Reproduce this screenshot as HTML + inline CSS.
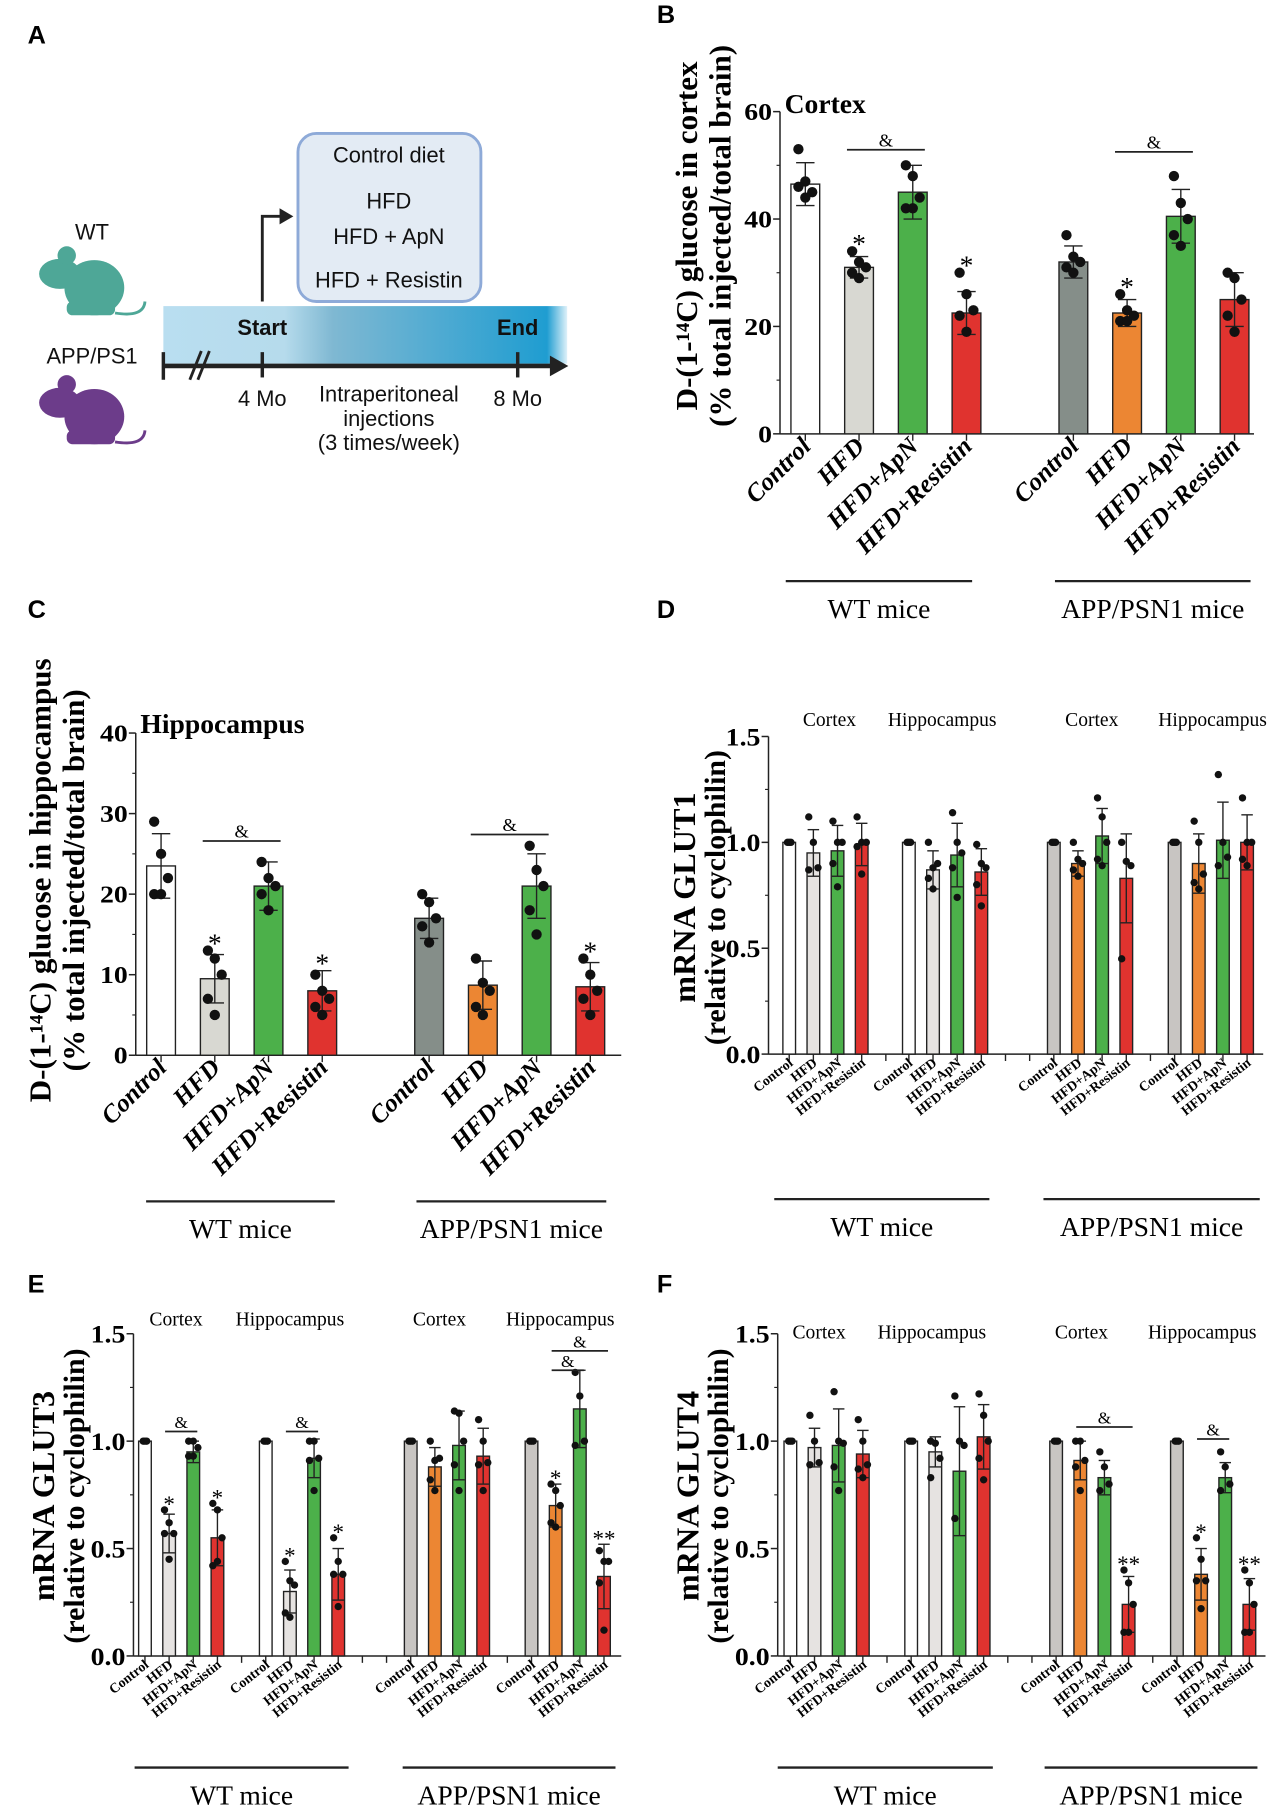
<!DOCTYPE html>
<html><head><meta charset="utf-8">
<style>
html,body{margin:0;padding:0;background:#fff;}
svg{display:block;}
text{font-family:"Liberation Serif",serif;}
.sans{font-family:"Liberation Sans",sans-serif;}
</style></head>
<body>
<svg id="fig" width="1277" height="1809" viewBox="0 0 1110 1572" preserveAspectRatio="none" xmlns="http://www.w3.org/2000/svg">
<defs>
<linearGradient id="band" x1="0" x2="1" y1="0" y2="0">
<stop offset="0" stop-color="#b9def0"/><stop offset="0.3" stop-color="#b6dbec"/><stop offset="0.42" stop-color="#7fb8d2"/><stop offset="0.95" stop-color="#1f9dd1"/><stop offset="1" stop-color="#dff1f9"/>
</linearGradient>
</defs>
<!-- Panel A -->
<g>
<text class="sans" x="24" y="38" font-size="22" font-weight="bold">A</text>
<rect x="259" y="116" width="159" height="146" rx="16" fill="#e3ebf4" stroke="#8eaad8" stroke-width="2.5"/>
<g class="sans" font-size="19" text-anchor="middle" fill="#111">
<text x="338" y="141" class="sans">Control diet</text>
<text x="338" y="181" class="sans">HFD</text>
<text x="338" y="212" class="sans">HFD + ApN</text>
<text x="338" y="250" class="sans">HFD + Resistin</text>
</g>
<rect x="142" y="266" width="351" height="50" fill="url(#band)"/>
<line x1="141" y1="318" x2="480" y2="318" stroke="#222" stroke-width="4"/>
<polygon points="478,309 494,318 478,327" fill="#222"/>
<line x1="142" y1="306" x2="142" y2="330" stroke="#222" stroke-width="3"/>
<line x1="165" y1="330" x2="175" y2="305" stroke="#222" stroke-width="2.5"/>
<line x1="172" y1="330" x2="182" y2="305" stroke="#222" stroke-width="2.5"/>
<line x1="228" y1="306" x2="228" y2="328" stroke="#222" stroke-width="3"/>
<line x1="450" y1="306" x2="450" y2="328" stroke="#222" stroke-width="3"/>
<polyline points="228,262 228,188 245,188" fill="none" stroke="#222" stroke-width="2.5"/>
<polygon points="243,181 255,188 243,195" fill="#222"/>
<g class="sans" font-size="19" text-anchor="middle" fill="#111">
<text x="228" y="291" class="sans" font-weight="bold">Start</text>
<text x="450" y="291" class="sans" font-weight="bold">End</text>
<text x="228" y="353" class="sans">4 Mo</text>
<text x="450" y="353" class="sans">8 Mo</text>
<text x="338" y="349" class="sans">Intraperitoneal</text>
<text x="338" y="370" class="sans">injections</text>
<text x="338" y="391" class="sans">(3 times/week)</text>
<text x="80" y="208" class="sans">WT</text>
<text x="80" y="316" class="sans">APP/PS1</text>
</g>
<g fill="#4ea797">
<ellipse cx="82" cy="250" rx="26" ry="24"/><ellipse cx="52" cy="238" rx="18" ry="13"/><circle cx="58" cy="222" r="8"/>
<rect x="58" y="262" width="42" height="12" rx="5"/>
<path d="M100,272 Q125,276 126,262" fill="none" stroke="#4ea797" stroke-width="2.5"/>
</g>
<g fill="#6c3c8a">
<ellipse cx="82" cy="362" rx="26" ry="24"/><ellipse cx="52" cy="350" rx="18" ry="13"/><circle cx="58" cy="334" r="8"/>
<rect x="58" y="374" width="42" height="12" rx="5"/>
<path d="M100,384 Q125,388 126,374" fill="none" stroke="#6c3c8a" stroke-width="2.5"/>
</g>
</g>
<g class="sans" font-size="22" font-weight="bold">
<text class="sans" x="571" y="20">B</text>
<text class="sans" x="24" y="537">C</text>
<text class="sans" x="571" y="537">D</text>
<text class="sans" x="24" y="1123">E</text>
<text class="sans" x="571" y="1123">F</text>
</g>
<g id="charts"></g>
</svg>
<script>
// ---------- Panel B data ----------
const bMeans = [46.5, 31, 45, 22.5, 32, 22.5, 40.5, 25];
const bErrs = [4, 2, 5, 4, 3, 2.5, 5, 5];
const bDots = [[53,47,45,46,44],[34,32,31,30,29],[50,48,44,42,42],[30,26,23,22,19],[37,33,32,31,30],[26,23,22,21,21],[48,43,40,37,35],[30,29,25,22,19]];
const bTicks = [0, 20, 40, 60];
const bStars = ['', '*', '', '*', '', '*', '', ''];
// ---------- Panel C data ----------
const cMeans = [23.5, 9.5, 21, 8, 17, 8.7, 21, 8.5];
const cErrs = [4, 3, 3, 2.5, 2.5, 3, 4, 3];
const cDots = [[29,25,22,20,20],[13,12,10,7,5],[24,22,21,20,18],[10,8,7,6,5],[20,19,17,16,14],[12,9,8,6,5],[26,23,21,18,15],[12,10,8,7,5]];
const cTicks = [0, 10, 20, 30, 40];
const cStars = ['', '*', '', '*', '', '', '', '*'];
// ---------- Panel D data (GLUT1) ----------
const dMeans = [1,.95,.96,.99, 1,.87,.94,.86, 1,.9,1.03,.83, 1,.9,1.01,1.0];
const dErrs = [0,.11,.12,.1, 0,.09,.15,.11, 0,.06,.13,.21, 0,.14,.18,.13];
const dDots = [[1,1,1],[1.12,1,.88,.87],[1.1,1,1,.9,.79],[1.12,1,1,.98,.85],[1,1,1],[1,.88,.9,.83,.78],[1.14,1,.95,.88,.74],[.99,.9,.88,.8,.7],[1,1,1],[1,.92,.9,.87,.84],[1.21,1.12,1,.92,.89],[1,.91,.89,.45],[1,1,1],[1.1,1,.85,.81,.78],[1.32,1,.93,.89],[1.21,1,1,.92,.89]];
const dStars = ['','','','','','','','','','','','','','','',''];
// ---------- Panel E data (GLUT3) ----------
const eMeans = [1,.57,.95,.55, 1,.3,.92,.38, 1,.88,.98,.93, 1,.7,1.15,.37];
const eErrs = [0,.09,.05,.13, 0,.1,.09,.12, 0,.09,.16,.13, 0,.1,.18,.15];
const eDots = [[1,1,1],[.68,.62,.57,.57,.45],[1,1,.97,.93,.93],[.71,.68,.55,.42,.44],[1,1,1],[.44,.35,.33,.2,.18],[1,1,.92,.91,.77],[.55,.44,.38,.38,.23],[1,1,1],[1,.91,.92,.82,.77],[1.14,1.13,1,.89,.77],[1.1,1,.9,.89,.77],[1,1,1],[.8,.77,.7,.62,.6],[1.32,1.21,1,.98],[.49,.44,.44,.34,.12]];
const eStars = ['','*','','*','','*','','*','','','','','','*','','**'];
// ---------- Panel F data (GLUT4) ----------
const fMeans = [1,.97,.98,.94, 1,.95,.86,1.02, 1,.91,.83,.24, 1,.38,.83,.24];
const fErrs = [0,.09,.17,.11, 0,.07,.3,.15, 0,.09,.08,.13, 0,.12,.07,.12];
const fDots = [[1,1,1],[1.12,1,.9,.89],[1.23,1,.99,.88,.77],[1.1,1,.89,.87,.83],[1,1,1],[1,.99,.92,.83],[1.21,1,.98,.64],[1.22,1.12,1,.92,.82],[1,1,1],[1,1,.91,.88,.77],[.95,.88,.8,.77],[.4,.34,.24,.11,.11],[1,1,1],[.55,.45,.35,.35,.22],[.95,.88,.8,.77],[.4,.34,.24,.11,.11]];
const fStars = ['','','','','','','','','','','','**','','*','','**'];
const mTicks = [0, 0.5, 1.0, 1.5];
const mTickLabels = ['0.0', '0.5', '1.0', '1.5'];
const barLabels = ['Control', 'HFD', 'HFD+ApN', 'HFD+Resistin'];

const NS = 'http://www.w3.org/2000/svg';
const root = document.getElementById('charts');
function mk(tag, attrs, parent, txt) {
  const e = document.createElementNS(NS, tag);
  for (const k in attrs) e.setAttribute(k, attrs[k]);
  if (txt !== undefined) e.textContent = txt;
  (parent || root).appendChild(e);
  return e;
}

function chart(o) {
  const g = mk('g', {});
  
  
  const ys = v => o.y0 - (v - o.ymin) / (o.ymax - o.ymin) * (o.y0 - o.ytop);
  const n = o.means.length;
  const xs = i => o.x0 + (i % 4) * o.step + o.offs[Math.floor(i / 4)];
  const ya = mk('line', {x1: o.ax, y1: o.ytop, x2: o.ax, y2: o.y0, stroke: '#222', 'stroke-width': 1.3}, g);
  
  
  const xa = mk('line', {x1: o.ax, y1: o.y0, x2: o.xend, y2: o.y0, stroke: '#222', 'stroke-width': 1.3}, g);
  
  
  o.ticks.forEach((t, k) => {
    mk('line', {x1: o.ax - 6, y1: ys(t), x2: o.ax, y2: ys(t), stroke: '#222', 'stroke-width': 1.3}, g);
    const tl = mk('text', {x: 0, y: 0, transform: `translate(${o.ax - 7},${ys(t) + o.tickFs * 0.35}) scale(${o.tickSx},1)`, 'text-anchor': 'end', 'font-size': o.tickFs, 'font-weight': 'bold'}, g, o.tickLabels ? o.tickLabels[k] : t);
    
    
    if (k < o.ticks.length - 1) {
      const mid = (t + o.ticks[k + 1]) / 2;
      mk('line', {x1: o.ax - 3, y1: ys(mid), x2: o.ax, y2: ys(mid), stroke: '#222', 'stroke-width': 1}, g);
    }
  });
  (o.sepTicks || []).forEach(sx => mk('line', {x1: sx, y1: o.y0, x2: sx, y2: o.y0 + 6, stroke: '#222', 'stroke-width': 1.2}, g));
  for (let i = 0; i < n; i++) {
    const x = xs(i), grp = Math.floor(i / 4), c = o.colors[grp < o.wtGroups ? 0 : 1][i % 4];
    const r = mk('rect', {x: x - o.bw / 2, y: ys(o.means[i]), width: o.bw, height: o.y0 - ys(o.means[i]), fill: c, stroke: '#222', 'stroke-width': 1.2}, g);
    
    
    mk('line', {x1: x, y1: o.y0, x2: x, y2: o.y0 + 6, stroke: '#222', 'stroke-width': 1.2}, g);
    if (o.errs[i] > 0) {
      const hi = ys(o.means[i] + o.errs[i]), lo = ys(o.means[i] - o.errs[i]);
      mk('line', {x1: x, y1: hi, x2: x, y2: lo, stroke: '#222', 'stroke-width': 1.2}, g);
      mk('line', {x1: x - o.cap, y1: hi, x2: x + o.cap, y2: hi, stroke: '#222', 'stroke-width': 1.2}, g);
      mk('line', {x1: x - o.cap, y1: lo, x2: x + o.cap, y2: lo, stroke: '#222', 'stroke-width': 1.2}, g);
    }
    const ds = o.dots[i];
    const same = ds.every(v => v === ds[0]);
    ds.forEach((v, j) => {
      const off = same ? (j - 1) * 1.5 : (j % 3 - 1) * o.jit;
      const d = mk('circle', {cx: x + off, cy: ys(v), r: o.dr, fill: '#111'}, g);
      
      
    });
    if (o.stars[i]) {
      const top = Math.max(o.means[i] + o.errs[i], Math.max.apply(null, ds));
      const s = mk('text', {x: x, y: ys(top) - o.dr + o.starFs * 0.25, 'text-anchor': 'middle', 'font-size': o.starFs}, g, o.stars[i]);
      
      
    }
    const lb = mk('text', {transform: `translate(${x + o.lblDx},${o.y0 + o.lblDy}) rotate(${o.rot})`, 'text-anchor': 'end', 'font-size': o.lblFs, 'font-weight': 'bold', 'font-style': o.italic ? 'italic' : 'normal'}, g, barLabels[i % 4]);
    
    
  }
  o.amps.forEach(a => {
    const xa1 = xs(a[0]) - o.bw / 2 + 2, xa2 = xs(a[1]) + o.bw / 2 - 2, y = ys(a[2]);
    mk('line', {x1: xa1, y1: y, x2: xa2, y2: y, stroke: '#222', 'stroke-width': 1.5}, g);
    const t = mk('text', {x: (xa1 + xa2) / 2, y: y - 3, 'text-anchor': 'middle', 'font-size': o.ampFs}, g, '&');
    
    
  });
  const cy = o.titleY;
  const t1 = mk('text', {transform: `translate(${o.tx1},${cy}) rotate(-90)`, 'text-anchor': 'middle', 'font-size': o.titleFs, 'font-weight': 'bold'}, g, o.title1);
  
  
  mk('text', {transform: `translate(${o.tx2},${cy}) rotate(-90)`, 'text-anchor': 'middle', 'font-size': o.title2Fs || o.titleFs, 'font-weight': 'bold'}, g, o.title2);
  o.groups.forEach(gr => {
    mk('line', {x1: gr[0], y1: o.gy, x2: gr[1], y2: o.gy, stroke: '#222', 'stroke-width': 2}, g);
    const t = mk('text', {x: (gr[0] + gr[1]) / 2, y: o.gy + 32, 'text-anchor': 'middle', 'font-size': 24}, g, gr[2]);
    
    
  });
  (o.subs || []).forEach(s => {
    const t = mk('text', {x: s[0], y: s[1], 'text-anchor': 'middle', 'font-size': 17}, g, s[2]);
    
    
  });
  if (o.heading) {
    const t = mk('text', {x: o.heading[0], y: o.heading[1], 'font-size': 24, 'font-weight': 'bold'}, g, o.heading[2]);
    
    
  }
}

const colBC = [['#ffffff', '#d8d8d2', '#4cb04a', '#e0332f'], ['#858e89', '#ec8633', '#4cb04a', '#e0332f']];
const colM = [['#ffffff', '#e6e3e1', '#4cb04a', '#e0332f'], ['#c8c5c2', '#ec8633', '#4cb04a', '#e0332f']];
const big = {step: 46.7, bw: 25, cap: 8, dr: 4.5, jit: 6, starFs: 24, ampFs: 16, tickFs: 21, tickSx: 1.15, lblFs: 22, rot: -45, italic: true, lblDx: 6, lblDy: 12, wtGroups: 1, colors: colBC, titleFs: 27};
chart(Object.assign({}, big, {name: 'panel-b-cortex-chart', means: bMeans, errs: bErrs, dots: bDots, stars: bStars, ticks: bTicks,
  ymin: 0, ymax: 60, y0: 377, ytop: 97, ax: 678, xend: 1090, x0: 700, offs: [0, 233],
  amps: [[1, 2, 52.9], [5, 6, 52.5]], tx1: 606, tx2: 635, titleY: 205, title1: 'D-(1-¹⁴C) glucose in cortex', title2: '(% total injected/total brain)',
  groups: [[683, 845, 'WT mice'], [917, 1087, 'APP/PSN1 mice']], gy: 505, heading: [682, 98, 'Cortex']}));
chart(Object.assign({}, big, {name: 'panel-c-hippocampus-chart', means: cMeans, errs: cErrs, dots: cDots, stars: cStars, ticks: cTicks,
  ymin: 0, ymax: 40, y0: 917, ytop: 637, ax: 118, xend: 540, x0: 140, offs: [0, 233],
  amps: [[1, 2, 26.6], [5, 6, 27.4]], tx1: 44, tx2: 73, titleY: 765, title1: 'D-(1-¹⁴C) glucose in hippocampus', title2: '(% total injected/total brain)',
  groups: [[127, 291, 'WT mice'], [362, 527, 'APP/PSN1 mice']], gy: 1044, heading: [122, 637, 'Hippocampus']}));
const sm = {step: 21, bw: 11, cap: 5, dr: 3.2, jit: 4, starFs: 20, ampFs: 15, tickFs: 22, tickSx: 1.1, tickLabels: mTickLabels, ticks: mTicks, lblFs: 12, rot: -38, italic: false, lblDx: 4, lblDy: 9, wtGroups: 2, colors: colM, titleFs: 28, title2Fs: 26, ymin: 0, ymax: 1.5, title2: '(relative to cyclophilin)'};
chart(Object.assign({}, sm, {name: 'panel-d-glut1-chart', means: dMeans, errs: dErrs, dots: dDots, stars: dStars,
  y0: 916, ytop: 640, ax: 668, xend: 1098, x0: 686, offs: [0, 104, 230, 335], sepTicks: [770, 874, 895, 1000],
  amps: [], tx1: 604, tx2: 630, titleY: 780, title1: 'mRNA GLUT1',
  groups: [[673, 860, 'WT mice'], [907, 1095, 'APP/PSN1 mice']], gy: 1042,
  subs: [[721, 631, 'Cortex'], [819, 631, 'Hippocampus'], [949, 631, 'Cortex'], [1054, 631, 'Hippocampus']]}));
chart(Object.assign({}, sm, {name: 'panel-e-glut3-chart', means: eMeans, errs: eErrs, dots: eDots, stars: eStars,
  y0: 1439, ytop: 1159, ax: 116, xend: 540, x0: 126, offs: [0, 105, 231, 336], sepTicks: [210, 315, 336, 441],
  amps: [[1, 2, 1.045], [5, 6, 1.045], [13, 14, 1.33], [13, 15, 1.42]], tx1: 47, tx2: 73, titleY: 1300, title1: 'mRNA GLUT3',
  groups: [[117, 303, 'WT mice'], [350, 535, 'APP/PSN1 mice']], gy: 1536,
  subs: [[153, 1152, 'Cortex'], [252, 1152, 'Hippocampus'], [382, 1152, 'Cortex'], [487, 1152, 'Hippocampus']]}));
chart(Object.assign({}, sm, {name: 'panel-f-glut4-chart', means: fMeans, errs: fErrs, dots: fDots, stars: fStars,
  y0: 1439, ytop: 1159, ax: 676, xend: 1100, x0: 687, offs: [0, 105, 231, 336], sepTicks: [771, 876, 897, 1002],
  amps: [[9, 11, 1.066], [13, 14, 1.01]], tx1: 607, tx2: 633, titleY: 1300, title1: 'mRNA GLUT4',
  groups: [[676, 863, 'WT mice'], [908, 1093, 'APP/PSN1 mice']], gy: 1536,
  subs: [[712, 1163, 'Cortex'], [810, 1163, 'Hippocampus'], [940, 1163, 'Cortex'], [1045, 1163, 'Hippocampus']]}));
</script>
</body></html>
